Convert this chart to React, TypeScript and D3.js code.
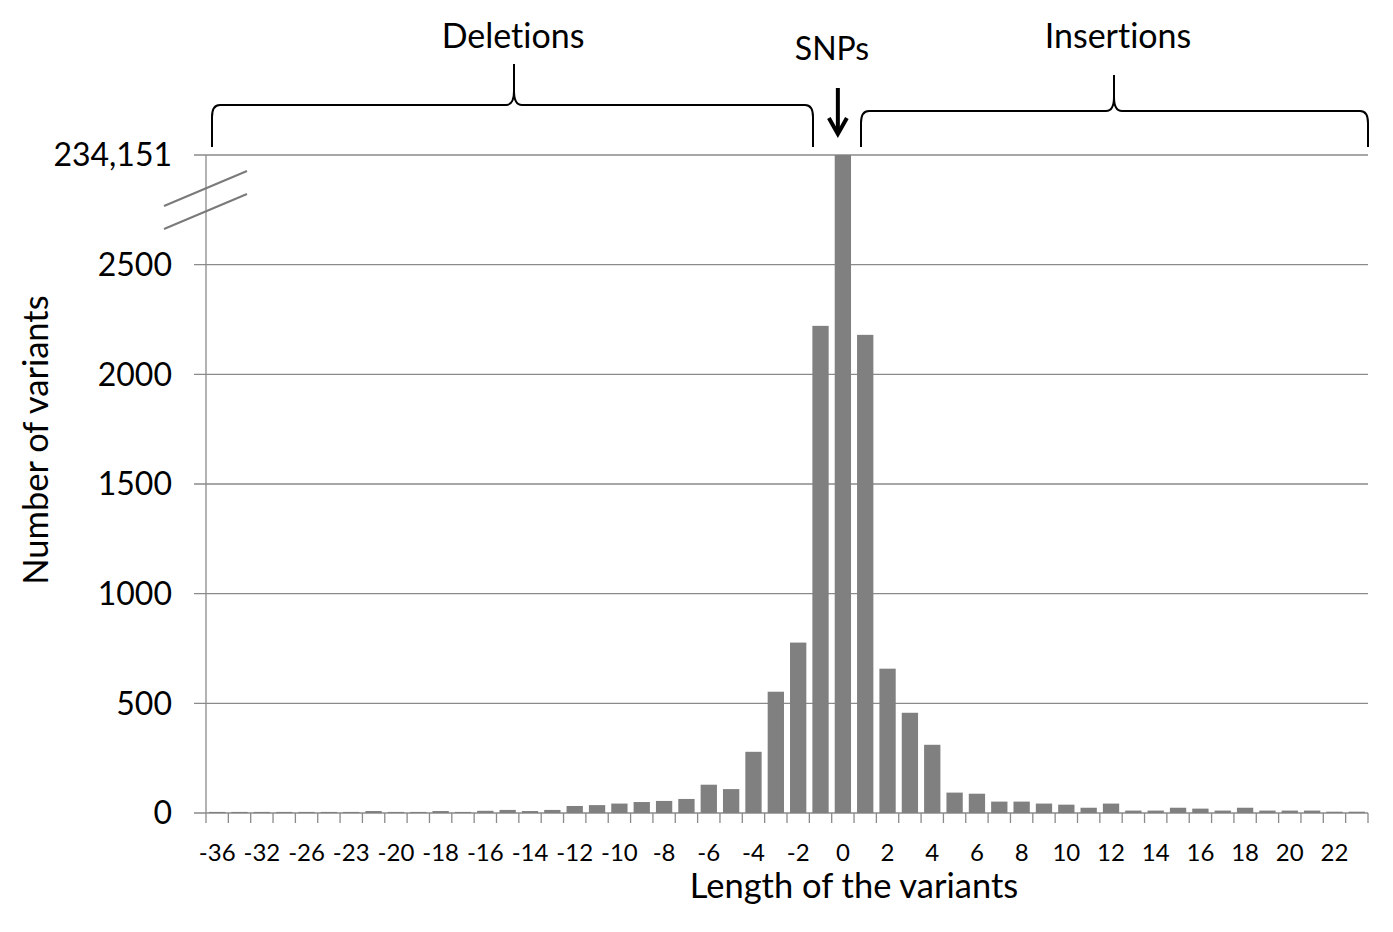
import { useEffect, useRef } from 'react';
import * as d3 from 'd3';

// variant length categories (negative = deletions, positive = insertions)
const categories = [
  '-36', '-34', '-32', '-29', '-26', '-24', '-23', '-21', '-20', '-19',
  '-18', '-17', '-16', '-15', '-14', '-13', '-12', '-11', '-10', '-9',
  '-8', '-7', '-6', '-5', '-4', '-3', '-2', '-1', '0', '1',
  '2', '3', '4', '5', '6', '7', '8', '9', '10', '11',
  '12', '13', '14', '15', '16', '17', '18', '19', '20', '21',
  '22', '23',
];

const counts = [
  5, 5, 5, 5, 5, 5, 5, 9, 5, 5,
  9, 5, 10, 14, 9, 14, 32, 36, 43, 50,
  55, 64, 129, 109, 279, 553, 777, 2221, 234151, 2180,
  658, 457, 311, 93, 88, 52, 52, 43, 38, 24,
  43, 11, 11, 24, 20, 11, 24, 11, 11, 11,
  6, 6,
];

const yTicks = [0, 500, 1000, 1500, 2000, 2500];
const breakAt = 3000; // axis position where the scale is cut
const snpCount = 234151;

const FONT = 'Lato, "Open Sans", sans-serif';

export default function App() {
  const svgRef = useRef<SVGSVGElement>(null);
  const width = 1393;
  const height = 932;

  useEffect(() => {
    if (!svgRef.current) return;
    const svg = d3.select(svgRef.current);
    svg.selectAll('*').remove();

    const margin = { top: 155, right: 25, bottom: 119, left: 206 };
    const innerWidth = width - margin.left - margin.right;
    const innerHeight = height - margin.top - margin.bottom;

    const g = svg.append('g').attr('transform', `translate(${margin.left},${margin.top})`);

    const x = d3.scaleBand<string>()
      .domain(categories)
      .range([0, innerWidth])
      .paddingInner(0.27)
      .paddingOuter(0.135);

    const y = d3.scaleLinear().domain([0, breakAt]).range([innerHeight, 0]);

    // gridlines (extend left as outside ticks)
    g.selectAll('line.grid')
      .data([...yTicks, breakAt])
      .join('line')
      .attr('class', 'grid')
      .attr('x1', -12)
      .attr('x2', innerWidth)
      .attr('y1', d => y(d))
      .attr('y2', d => y(d))
      .attr('stroke', '#8a8a8a')
      .attr('stroke-width', 1.3);

    // y axis line
    g.append('line')
      .attr('x1', 0).attr('x2', 0)
      .attr('y1', 0).attr('y2', innerHeight)
      .attr('stroke', '#8a8a8a')
      .attr('stroke-width', 1.3);

    // x ticks at category boundaries
    const step = x.step();
    g.selectAll('line.xtick')
      .data(d3.range(categories.length + 1))
      .join('line')
      .attr('class', 'xtick')
      .attr('x1', i => i * step)
      .attr('x2', i => i * step)
      .attr('y1', innerHeight)
      .attr('y2', innerHeight + 10)
      .attr('stroke', '#8a8a8a')
      .attr('stroke-width', 1.3);

    // bars (clipped at the axis break)
    g.selectAll('rect.bar')
      .data(counts)
      .join('rect')
      .attr('class', 'bar')
      .attr('x', (_, i) => x(categories[i]) ?? 0)
      .attr('width', x.bandwidth())
      .attr('y', d => y(Math.min(d, breakAt)))
      .attr('height', d => innerHeight - y(Math.min(d, breakAt)))
      .attr('fill', '#808080');

    // y tick labels, the top one carries the SNP count above the break
    g.selectAll('text.ylab')
      .data([...yTicks, breakAt])
      .join('text')
      .attr('class', 'ylab')
      .attr('x', -34)
      .attr('y', d => y(d))
      .attr('dy', '0.35em')
      .attr('text-anchor', 'end')
      .attr('font-family', FONT)
      .attr('font-size', 32)
      .text(d => (d === breakAt ? d3.format(',')(snpCount) : String(d)));

    // axis break marks
    [0, 23].forEach(off => {
      svg.append('line')
        .attr('x1', 164).attr('y1', 206 + off)
        .attr('x2', 247).attr('y2', 171 + off)
        .attr('stroke', '#7a7a7a')
        .attr('stroke-width', 2);
    });

    // x tick labels (every other category)
    g.selectAll('text.xlab')
      .data(categories.filter((_, i) => i % 2 === 0))
      .join('text')
      .attr('class', 'xlab')
      .attr('x', d => (x(d) ?? 0) + x.bandwidth() / 2)
      .attr('y', innerHeight + 48)
      .attr('text-anchor', 'middle')
      .attr('font-family', FONT)
      .attr('font-size', 24)
      .text(d => d);

    // axis titles
    svg.append('text')
      .attr('x', 854)
      .attr('y', 898)
      .attr('text-anchor', 'middle')
      .attr('font-family', FONT)
      .attr('font-size', 34.5)
      .style('font-variant-ligatures', 'none')
      .text('Length of the variants');

    svg.append('text')
      .attr('transform', 'translate(48,440) rotate(-90)')
      .attr('text-anchor', 'middle')
      .attr('font-family', FONT)
      .attr('font-size', 34.5)
      .style('font-variant-ligatures', 'none')
      .text('Number of variants');

    // braces
    const brace = (x0: number, x1: number, xt: number, yh: number, yt: number, yb: number) => {
      const p = d3.path();
      p.moveTo(x0, yb);
      p.lineTo(x0, yh + 12);
      p.quadraticCurveTo(x0, yh, x0 + 8, yh);
      p.lineTo(xt - 8, yh);
      p.quadraticCurveTo(xt, yh, xt, yh - 14);
      p.lineTo(xt, yt);
      p.moveTo(xt, yh - 14);
      p.quadraticCurveTo(xt, yh, xt + 8, yh);
      p.lineTo(x1 - 8, yh);
      p.quadraticCurveTo(x1, yh, x1, yh + 12);
      p.lineTo(x1, yb);
      svg.append('path')
        .attr('d', p.toString())
        .attr('fill', 'none')
        .attr('stroke', '#000')
        .attr('stroke-width', 2);
    };
    brace(212, 813, 514, 105, 64, 147);
    brace(861, 1368, 1114, 111, 75, 147);

    // SNP arrow
    const ax = x('0')! + margin.left + x.bandwidth() / 2 - 5;
    svg.append('line')
      .attr('x1', ax).attr('x2', ax)
      .attr('y1', 88).attr('y2', 133)
      .attr('stroke', '#000')
      .attr('stroke-width', 4);
    svg.append('path')
      .attr('d', `M${ax - 9},${118} L${ax},${134} L${ax + 9},${118}`)
      .attr('fill', 'none')
      .attr('stroke', '#000')
      .attr('stroke-width', 4)
      .attr('stroke-linejoin', 'miter');

    // group labels
    const labels = [
      { text: 'Deletions', x: 513, y: 48, size: 34 },
      { text: 'SNPs', x: 832, y: 60, size: 32 },
      { text: 'Insertions', x: 1118, y: 48, size: 34 },
    ];
    svg.selectAll('text.group')
      .data(labels)
      .join('text')
      .attr('class', 'group')
      .attr('x', d => d.x)
      .attr('y', d => d.y)
      .attr('text-anchor', 'middle')
      .attr('font-family', FONT)
      .attr('font-size', d => d.size)
      .style('font-variant-ligatures', 'none')
      .text(d => d.text);
  }, []);

  return (
    <svg
      ref={svgRef}
      width={width}
      height={height}
      style={{ position: 'absolute', left: 0, top: 0, background: '#fff' }}
    />
  );
}
